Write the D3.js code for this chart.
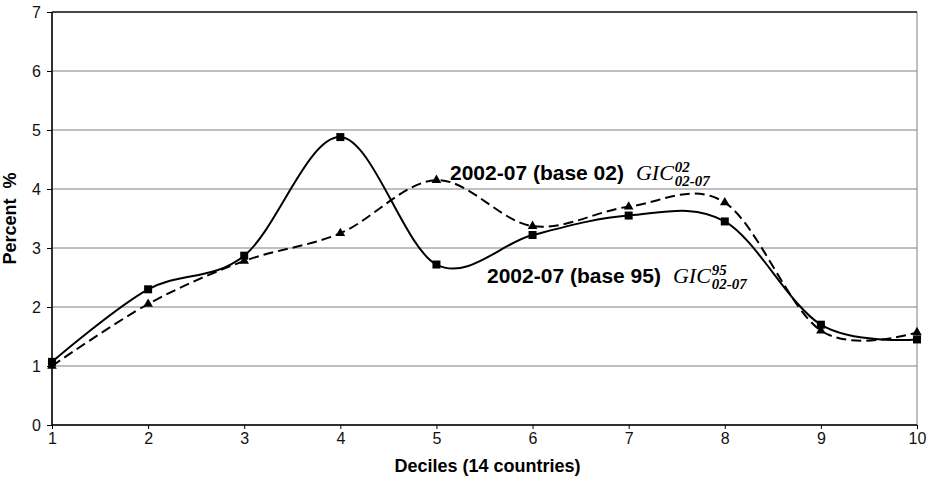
<!DOCTYPE html>
<html>
<head>
<meta charset="utf-8">
<script src="https://cdn.jsdelivr.net/npm/d3@7"></script>
<style>
  body { margin: 0; background: #fff; }
  svg text { font-family: "Liberation Sans", Arial, sans-serif; }
</style>
</head>
<body>
<div id="chart"></div>
<script>
// Data
let deciles = [1, 2, 3, 4, 5, 6, 7, 8, 9, 10]
let base95 = [1.07, 2.30, 2.87, 4.88, 2.72, 3.22, 3.55, 3.45, 1.70, 1.45]
let base02 = [1.00, 2.05, 2.78, 3.25, 4.15, 3.37, 3.70, 3.77, 1.60, 1.57]
let yTicks = [0, 1, 2, 3, 4, 5, 6, 7]

let size = { width: 933, height: 480 }
let margin = { top: 12, right: 16, bottom: 55, left: 52 }
let width = size.width - margin.left - margin.right
let height = size.height - margin.top - margin.bottom

let x = d3.scaleLinear().domain([1, 10]).range([0, width])
let y = d3.scaleLinear().domain([0, 7]).range([height, 0])

let svg = d3.select('#chart').append('svg')
  .attr('width', size.width)
  .attr('height', size.height)
  .append('g')
  .attr('transform', `translate(${margin.left}, ${margin.top})`)

// Grid lines
svg.append('g')
  .selectAll('line')
  .data(yTicks.filter(t => t > 0 && t < 7))
  .enter()
  .append('line')
  .attr('x1', 0).attr('x2', width)
  .attr('y1', y).attr('y2', y)
  .style('stroke', '#808080')
  .style('stroke-width', 1)

// Frame
svg.append('rect')
  .attr('width', width).attr('height', height)
  .style('fill', 'none')
  .style('stroke', '#808080')
svg.append('line').attr('x1', 0).attr('x2', width).attr('y1', 0).attr('y2', 0)
  .style('stroke', '#222').style('stroke-width', 1.5)

// Axes
let yAxis = svg.append('g')
  .call(d3.axisLeft(y).tickValues(yTicks).tickFormat(d3.format('d')).tickSize(5).tickPadding(6))
let xAxis = svg.append('g')
  .attr('transform', `translate(0, ${height})`)
  .call(d3.axisBottom(x).tickValues(deciles).tickFormat(d3.format('d')).tickSize(4).tickPadding(4))

;[yAxis, xAxis].forEach(a => {
  a.select('.domain').style('stroke', '#000').style('stroke-width', 1.5)
  a.selectAll('.tick line').style('stroke', '#000')
  a.selectAll('text').style('font-size', '16px').style('fill', '#111')
    .style('font-family', '"Liberation Sans", Arial, sans-serif')
})
xAxis.select('.domain').attr('d', `M0,0H${width}`)
yAxis.select('.domain').attr('d', `M0,${height}V0`)

// Lines (smoothed like the spreadsheet)
let line = d3.line()
  .x((d, i) => x(deciles[i]))
  .y(d => y(d))
  .curve(d3.curveCardinal.tension(0))

svg.append('path')
  .datum(base02)
  .attr('d', line)
  .style('fill', 'none')
  .style('stroke', '#000')
  .style('stroke-width', 2)
  .style('stroke-dasharray', '10,5')

svg.append('path')
  .datum(base95)
  .attr('d', line)
  .style('fill', 'none')
  .style('stroke', '#000')
  .style('stroke-width', 2)

// Markers
svg.selectAll('.tri')
  .data(base02)
  .enter()
  .append('path')
  .attr('class', 'tri')
  .attr('transform', (d, i) => `translate(${x(deciles[i])}, ${y(d)})`)
  .attr('d', d3.symbol(d3.symbolTriangle, 40))
  .style('fill', '#000')

svg.selectAll('.sq')
  .data(base95)
  .enter()
  .append('rect')
  .attr('class', 'sq')
  .attr('x', (d, i) => x(deciles[i]) - 4)
  .attr('y', d => y(d) - 4)
  .attr('width', 8).attr('height', 8)
  .style('fill', '#000')

// Series labels
let serif = '"Liberation Serif", "Times New Roman", serif'
let addLabel = function (lx, ly, text, sup) {
  let t = svg.append('text')
    .attr('x', lx).attr('y', ly)
    .style('font-size', '21px')
    .style('font-weight', 'bold')
    .text(text)
  let w = t.node().getComputedTextLength()
  let g = svg.append('text')
    .attr('x', lx + w + 12).attr('y', ly)
    .style('font-family', serif)
    .style('font-style', 'italic')
  g.append('tspan').text('GIC').style('font-size', '22px')
  let s1 = g.append('tspan').text(sup)
    .attr('dy', -8).attr('dx', 1)
    .style('font-size', '15px').style('font-weight', 'bold')
  let sw = s1.node().getComputedTextLength()
  g.append('tspan').text('02-07')
    .attr('dy', 14).attr('dx', -sw)
    .style('font-size', '15px').style('font-weight', 'bold')
}
addLabel(398, 168, '2002-07 (base 02)', '02')
addLabel(435, 271, '2002-07 (base 95)', '95')

// Axis titles
svg.append('text')
  .attr('transform', `translate(${-36}, ${height / 2}) rotate(-90)`)
  .attr('text-anchor', 'middle')
  .style('font-size', '18px').style('font-weight', 'bold')
  .style('white-space', 'pre')
  .text('Percent  %')

svg.append('text')
  .attr('x', width / 2 + 3).attr('y', height + 47)
  .attr('text-anchor', 'middle')
  .style('font-size', '18px').style('font-weight', 'bold')
  .text('Deciles (14 countries)')
</script>
</body>
</html>
